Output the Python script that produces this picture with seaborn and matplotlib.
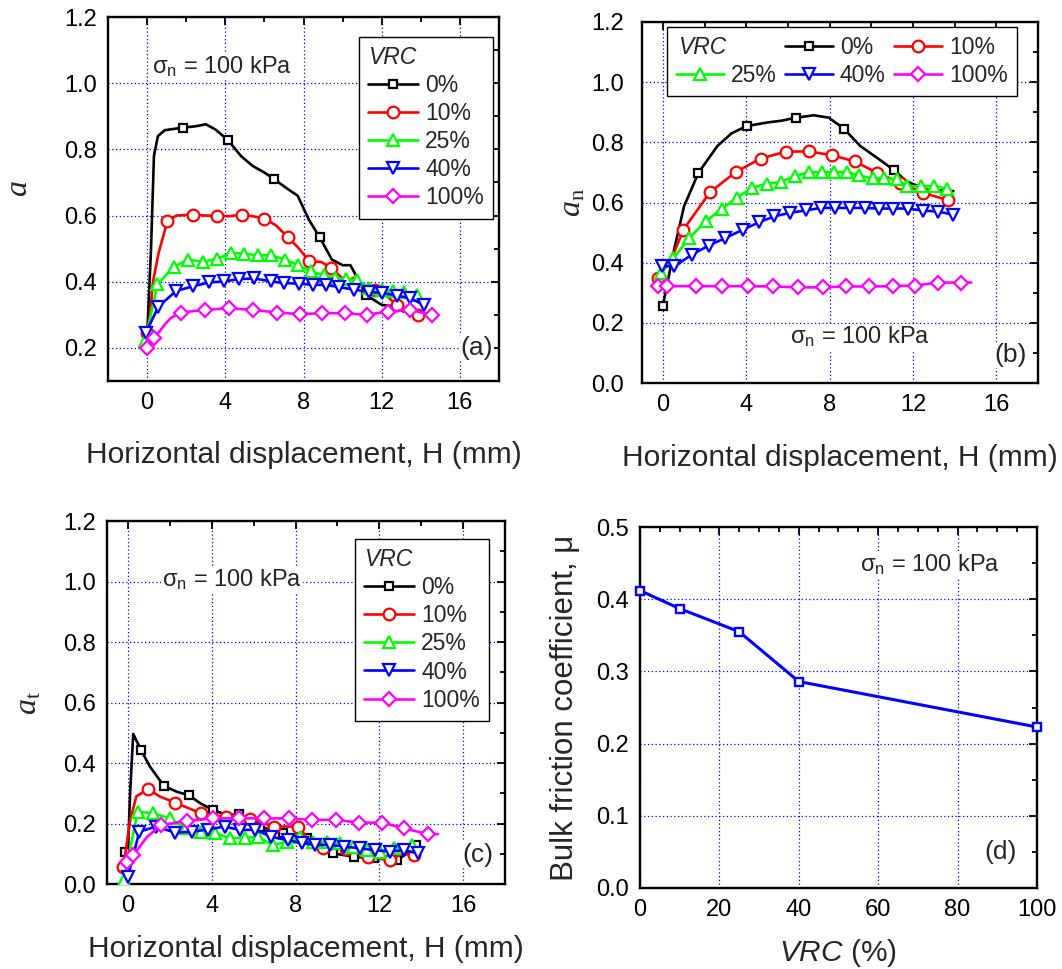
import numpy as np
import pandas as pd
import matplotlib
matplotlib.use("Agg")
import matplotlib.pyplot as plt
import seaborn as sns
from matplotlib.lines import Line2D
from matplotlib.ticker import MultipleLocator, FormatStrFormatter

sns.set_theme(style="white")
plt.rcParams["font.family"] = ["Liberation Sans", "DejaVu Sans"]
plt.rcParams["mathtext.fontset"] = "custom"
plt.rcParams["mathtext.rm"] = "Liberation Serif"
plt.rcParams["mathtext.it"] = "Liberation Serif:italic"
plt.rcParams["mathtext.sf"] = "Liberation Sans:italic"
plt.rcParams["axes.unicode_minus"] = False

# ---------------- data ----------------
VRC_LABELS = ["0%", "10%", "25%", "40%", "100%"]

# panel (a): a vs H
a_h_0 = [0.0, 0.2, 0.35, 0.55, 0.9, 1.85, 2.5, 3.0, 3.5, 4.15, 4.8, 5.4, 6.0, 6.5, 7.2, 7.7, 8.27, 8.83, 9.45, 10.0, 10.4, 10.8, 11.2, 12.0, 12.75, 13.1]
a_v_0 = [0.23, 0.5, 0.78, 0.84, 0.858, 0.866, 0.87, 0.876, 0.86, 0.827, 0.78, 0.75, 0.73, 0.71, 0.68, 0.66, 0.588, 0.534, 0.467, 0.45, 0.45, 0.406, 0.36, 0.33, 0.325, 0.31]
a_m_0 = [5, 9, 13, 17, 22]
a_h_10 = [0.0, 0.15, 0.3, 0.6, 1.04, 1.5, 2.36, 3.0, 3.59, 4.2, 4.83, 5.4, 6.0, 6.6, 7.19, 7.7, 8.3, 8.9, 9.4, 10.0, 10.56, 11.1, 11.67, 12.2, 12.77, 13.3, 13.88]
a_v_10 = [0.245, 0.30, 0.40, 0.49, 0.583, 0.60, 0.603, 0.60, 0.60, 0.598, 0.603, 0.598, 0.591, 0.57, 0.535, 0.505, 0.462, 0.46, 0.442, 0.41, 0.396, 0.385, 0.376, 0.36, 0.33, 0.31, 0.30]
a_m_10 = [0, 4, 6, 8, 10, 12, 14, 16, 18, 20, 22, 24, 26]
a_h_25 = [-0.1, 0.53, 1.38, 2.08, 2.87, 3.6, 4.3, 4.97, 5.65, 6.33, 7.06, 7.7, 8.38, 9.05, 9.6, 10.16, 10.76, 11.35, 12.03, 12.6, 13.14, 13.8]
a_v_25 = [0.22, 0.393, 0.445, 0.467, 0.46, 0.47, 0.487, 0.485, 0.48, 0.48, 0.467, 0.451, 0.431, 0.42, 0.41, 0.408, 0.406, 0.382, 0.375, 0.372, 0.37, 0.36]
a_h_40 = [-0.07, 0.58, 1.48, 2.33, 3.18, 3.95, 4.71, 5.48, 6.33, 7.01, 7.75, 8.46, 9.14, 9.82, 10.58, 11.34, 12.03, 12.8, 13.47, 14.15]
a_v_40 = [0.245, 0.325, 0.372, 0.386, 0.398, 0.401, 0.408, 0.41, 0.401, 0.396, 0.394, 0.391, 0.39, 0.384, 0.376, 0.37, 0.366, 0.358, 0.35, 0.33]
a_h_100 = [0.0, 0.36, 0.9, 1.2, 1.72, 2.96, 4.18, 5.41, 6.65, 7.84, 8.95, 10.1, 11.24, 12.3, 13.44, 14.56]
a_v_100 = [0.20, 0.23, 0.27, 0.29, 0.307, 0.315, 0.32, 0.315, 0.307, 0.302, 0.305, 0.305, 0.30, 0.31, 0.315, 0.30]
a_m_100 = [0, 1, 4, 5, 6, 7, 8, 9, 10, 11, 12, 13, 14, 15]

# panel (b): a_n vs H
b_h_0 = [0.0, 0.3, 0.54, 1.02, 1.71, 2.62, 3.3, 4.02, 5.01, 5.7, 6.4, 7.24, 7.96, 8.68, 9.47, 10.27, 11.1, 11.7, 12.66, 13.94]
b_v_0 = [0.257, 0.36, 0.443, 0.588, 0.699, 0.788, 0.83, 0.854, 0.866, 0.872, 0.882, 0.89, 0.882, 0.846, 0.788, 0.749, 0.707, 0.67, 0.643, 0.638]
b_m_0 = [0, 4, 7, 10, 13, 16]
b_h_10 = [-0.24, 0.4, 0.99, 2.26, 3.49, 4.69, 5.89, 7.0, 8.12, 9.2, 10.27, 11.39, 12.5, 13.67]
b_v_10 = [0.35, 0.41, 0.51, 0.634, 0.701, 0.746, 0.769, 0.77, 0.757, 0.737, 0.699, 0.666, 0.632, 0.608]
b_m_10 = [0, 2, 3, 4, 5, 6, 7, 8, 9, 10, 11, 12, 13]
b_h_25 = [-0.1, 0.51, 1.27, 2.07, 2.82, 3.56, 4.28, 4.98, 5.66, 6.33, 7.0, 7.63, 8.22, 8.86, 9.42, 10.06, 10.6, 11.22, 11.73, 12.4, 13.0, 13.64]
b_v_25 = [0.366, 0.415, 0.482, 0.538, 0.579, 0.616, 0.649, 0.663, 0.668, 0.688, 0.701, 0.701, 0.701, 0.701, 0.69, 0.68, 0.68, 0.677, 0.654, 0.654, 0.655, 0.646]
b_h_40 = [-0.03, 0.56, 1.4, 2.2, 3.0, 3.85, 4.6, 5.35, 6.12, 6.88, 7.58, 8.27, 8.99, 9.7, 10.39, 11.06, 11.78, 12.49, 13.21, 13.9]
b_v_40 = [0.388, 0.388, 0.427, 0.457, 0.482, 0.51, 0.534, 0.554, 0.566, 0.574, 0.582, 0.582, 0.582, 0.582, 0.58, 0.58, 0.58, 0.573, 0.57, 0.56]
b_h_100 = [-0.24, 0.2, 1.61, 2.86, 4.09, 5.3, 6.5, 7.67, 8.79, 9.91, 11.02, 12.1, 13.21, 14.3, 14.8]
b_v_100 = [0.321, 0.322, 0.322, 0.322, 0.322, 0.321, 0.318, 0.318, 0.321, 0.321, 0.322, 0.324, 0.334, 0.334, 0.334]
b_m_100 = list(range(14))

# panel (c): a_t vs H
c_h_0 = [-0.15, 0.0, 0.1, 0.25, 0.62, 1.05, 1.72, 2.33, 2.89, 3.45, 4.05, 4.72, 5.3, 6.3, 7.4, 8.55, 9.2, 9.8, 10.8, 11.75, 12.85, 13.3, 13.73]
c_v_0 = [0.105, 0.11, 0.30, 0.496, 0.443, 0.388, 0.324, 0.305, 0.294, 0.267, 0.245, 0.228, 0.23, 0.19, 0.168, 0.151, 0.13, 0.101, 0.09, 0.085, 0.079, 0.10, 0.129]
c_m_0 = [0, 4, 6, 8, 10, 12, 13, 14, 15, 17, 18, 19, 20, 22]
c_h_10 = [-0.22, 0.1, 0.4, 0.97, 1.53, 2.25, 3.48, 4.69, 5.84, 6.99, 8.12, 8.7, 9.3, 10.4, 11.45, 12.5, 13.1, 13.65]
c_v_10 = [0.057, 0.21, 0.29, 0.313, 0.289, 0.269, 0.234, 0.221, 0.214, 0.19, 0.19, 0.14, 0.12, 0.115, 0.09, 0.079, 0.10, 0.096]
c_m_10 = [0, 3, 5, 6, 7, 8, 9, 10, 12, 13, 14, 15, 17]
c_h_25 = [-0.2, 0.46, 1.2, 2.0, 2.76, 3.5, 4.14, 4.86, 5.57, 6.21, 6.93, 7.57, 8.2, 8.84, 9.48, 10.12, 10.76, 11.4, 12.04, 12.68, 13.56]
c_v_25 = [0.013, 0.239, 0.234, 0.217, 0.184, 0.173, 0.17, 0.151, 0.153, 0.155, 0.129, 0.14, 0.155, 0.14, 0.14, 0.135, 0.124, 0.112, 0.107, 0.118, 0.129]
c_h_40 = [0.0, 0.54, 1.34, 2.25, 3.04, 3.8, 4.61, 5.36, 6.07, 6.82, 7.62, 8.3, 8.94, 9.66, 10.3, 11.06, 11.78, 12.5, 13.17, 13.84]
c_v_40 = [0.024, 0.173, 0.19, 0.17, 0.173, 0.18, 0.19, 0.178, 0.18, 0.156, 0.145, 0.135, 0.129, 0.129, 0.124, 0.118, 0.112, 0.107, 0.112, 0.101]
c_h_100 = [-0.06, 0.26, 0.9, 1.58, 2.84, 4.08, 5.28, 6.48, 7.67, 8.8, 9.92, 11.04, 12.12, 13.19, 14.3, 14.8]
c_v_100 = [0.074, 0.096, 0.155, 0.195, 0.209, 0.217, 0.217, 0.217, 0.217, 0.212, 0.212, 0.203, 0.203, 0.184, 0.165, 0.165]
c_m_100 = [0, 1, 3, 4, 5, 6, 7, 8, 9, 10, 11, 12, 13, 14]

# panel (d): bulk friction coefficient vs VRC
d_vrc = [0, 10, 25, 40, 100]
d_mu = [0.412, 0.387, 0.355, 0.286, 0.223]

# ---------------- styles ----------------
COLORS = ["#000000", "#FF0000", "#00FF00", "#0000FF", "#FF00FF"]
MARKERS = ["s", "o", "^", "v", "D"]
MSIZES = [6.4, 8.4, 8.6, 8.6, 7.0]
LW = 1.9
MEW = 1.6
TICK_FS = 17
LABEL_FS = 21.5
TEXT_FS = 17
LEG_FS = 16.5

fig = plt.figure(figsize=(10.62, 9.69), dpi=100)
fig.patch.set_facecolor("white")

ax_a = fig.add_axes([0.1017, 0.6068, 0.3682, 0.3756])
ax_b = fig.add_axes([0.6045, 0.6047, 0.3729, 0.3726])
ax_c = fig.add_axes([0.1008, 0.0877, 0.3748, 0.3746])
ax_d = fig.add_axes([0.6026, 0.0836, 0.3738, 0.3725])


def draw_series(ax, h, v, idx, k):
    df = pd.DataFrame({"H": h, "v": v})
    sns.lineplot(data=df, x="H", y="v", ax=ax, sort=False, estimator=None,
                 color=COLORS[k], lw=LW, marker=MARKERS[k], markevery=idx,
                 markersize=MSIZES[k], markerfacecolor="white",
                 markeredgecolor=COLORS[k], markeredgewidth=MEW,
                 legend=False, zorder=3 + k)


def style_axes(ax, xlim, ylim, xmaj, xmin, ymaj, ymin, xfmt="%d", yfmt="%.1f"):
    ax.set_xlim(xlim)
    ax.set_ylim(ylim)
    ax.xaxis.set_major_locator(MultipleLocator(xmaj))
    ax.xaxis.set_minor_locator(MultipleLocator(xmin))
    ax.yaxis.set_major_locator(MultipleLocator(ymaj))
    ax.yaxis.set_minor_locator(MultipleLocator(ymin))
    ax.xaxis.set_major_formatter(FormatStrFormatter(xfmt))
    ax.yaxis.set_major_formatter(FormatStrFormatter(yfmt))
    ax.tick_params(which="both", direction="in", top=True, right=True,
                   color="black", width=1.3, labelsize=TICK_FS, labelcolor="black")
    ax.tick_params(which="major", length=6)
    ax.tick_params(which="minor", length=3.5)
    ax.tick_params(axis="x", which="major", pad=8)
    ax.tick_params(axis="y", which="major", pad=8)
    for s in ax.spines.values():
        s.set_visible(True)
        s.set_linewidth(1.7)
        s.set_color("black")
    ax.set_axisbelow(True)
    ax.grid(True, which="major", color="#0000FF", ls=(0, (1, 2)), lw=0.9)
    ax.set_facecolor("white")


def sigma_text(ax, x, y):
    ax.text(x, y, "σ$_\\mathregular{n}$ = 100 kPa", transform=ax.transAxes,
            fontsize=TEXT_FS, ha="left", va="center", zorder=20,
            bbox=dict(facecolor="white", edgecolor="none", pad=1))


def panel_label(ax, x, y, s):
    ax.text(x, y, s, transform=ax.transAxes, fontsize=19,
            ha="right", va="center", zorder=20,
            bbox=dict(facecolor="white", edgecolor="none", pad=0.5))


def legend_handles():
    return [Line2D([], [], color=COLORS[k], lw=LW, marker=MARKERS[k],
                   markersize=MSIZES[k], markerfacecolor="white",
                   markeredgecolor=COLORS[k], markeredgewidth=MEW)
            for k in range(5)]


def vertical_legend(ax, anchor):
    leg = ax.legend(legend_handles(), VRC_LABELS, loc="upper right",
                    bbox_to_anchor=anchor, borderaxespad=0,
                    fontsize=LEG_FS, title="VRC",
                    title_fontproperties={"style": "italic", "size": LEG_FS},
                    alignment="left", frameon=True, fancybox=False,
                    edgecolor="black", framealpha=1, handlelength=2.2,
                    handletextpad=0.3, labelspacing=0.22, borderpad=0.4)
    leg.get_frame().set_linewidth(1.0)
    leg.set_zorder(30)
    return leg


# ---- (a) ----
draw_series(ax_a, a_h_0, a_v_0, a_m_0, 0)
draw_series(ax_a, a_h_10, a_v_10, a_m_10, 1)
draw_series(ax_a, a_h_25, a_v_25, None, 2)
draw_series(ax_a, a_h_40, a_v_40, None, 3)
draw_series(ax_a, a_h_100, a_v_100, a_m_100, 4)
style_axes(ax_a, (-2, 18), (0.1, 1.2), 4, 2, 0.2, 0.1)
ax_a.set_xlabel("Horizontal displacement, H (mm)", fontsize=LABEL_FS)
ax_a.set_ylabel(r"$a$", fontsize=23)
ax_a.xaxis.set_label_coords(0.5, -0.165)
ax_a.yaxis.set_label_coords(-0.19, 0.53)
sigma_text(ax_a, 0.113, 0.863)
panel_label(ax_a, 0.985, 0.09, "(a)")
vertical_legend(ax_a, (0.985, 0.945))

# ---- (b) ----
draw_series(ax_b, b_h_0, b_v_0, b_m_0, 0)
draw_series(ax_b, b_h_10, b_v_10, b_m_10, 1)
draw_series(ax_b, b_h_25, b_v_25, None, 2)
draw_series(ax_b, b_h_40, b_v_40, None, 3)
draw_series(ax_b, b_h_100, b_v_100, b_m_100, 4)
style_axes(ax_b, (-1, 18), (0.0, 1.2), 4, 2, 0.2, 0.1)
ax_b.tick_params(axis="y", which="major", pad=13)
ax_b.set_xlabel("Horizontal displacement, H (mm)", fontsize=LABEL_FS)
ax_b.set_ylabel(r"$a_\mathrm{n}$", fontsize=23)
ax_b.xaxis.set_label_coords(0.5, -0.17)
ax_b.yaxis.set_label_coords(-0.137, 0.5)
sigma_text(ax_b, 0.374, 0.127)
panel_label(ax_b, 0.972, 0.078, "(b)")
hs = legend_handles()
blank = Line2D([], [], color="none")
handles_b = [blank, hs[2], hs[0], hs[3], hs[1], hs[4]]
labels_b = ["", VRC_LABELS[2], VRC_LABELS[0], VRC_LABELS[3], VRC_LABELS[1], VRC_LABELS[4]]
leg_b = ax_b.legend(handles_b, labels_b, ncol=3, loc="upper left",
                    bbox_to_anchor=(0.063, 0.986), borderaxespad=0,
                    fontsize=LEG_FS, frameon=True, fancybox=False,
                    edgecolor="black", framealpha=1, handlelength=2.1,
                    handletextpad=0.3, labelspacing=0.22, columnspacing=0.35,
                    borderpad=0.4)
leg_b.get_frame().set_linewidth(1.0)
leg_b.set_zorder(30)
ax_b.text(0.091, 0.928, "VRC", transform=ax_b.transAxes, fontsize=LEG_FS,
          style="italic", ha="left", va="center", zorder=40)

# ---- (c) ----
draw_series(ax_c, c_h_0, c_v_0, c_m_0, 0)
draw_series(ax_c, c_h_10, c_v_10, c_m_10, 1)
draw_series(ax_c, c_h_25, c_v_25, None, 2)
draw_series(ax_c, c_h_40, c_v_40, None, 3)
draw_series(ax_c, c_h_100, c_v_100, c_m_100, 4)
style_axes(ax_c, (-1, 18), (0.0, 1.2), 4, 2, 0.2, 0.1)
ax_c.set_xlabel("Horizontal displacement, H (mm)", fontsize=LABEL_FS)
ax_c.set_ylabel(r"$a_\mathrm{t}$", fontsize=23)
ax_c.xaxis.set_label_coords(0.5, -0.14)
ax_c.yaxis.set_label_coords(-0.16, 0.5)
sigma_text(ax_c, 0.138, 0.837)
panel_label(ax_c, 0.97, 0.08, "(c)")
vertical_legend(ax_c, (0.96, 0.95))

# ---- (d) ----
df_d = pd.DataFrame({"VRC": d_vrc, "mu": d_mu})
sns.lineplot(data=df_d, x="VRC", y="mu", ax=ax_d, sort=False, estimator=None,
             color="#0000FF", lw=2.2, marker="s", markersize=6.2,
             markerfacecolor="white", markeredgecolor="#0000FF",
             markeredgewidth=1.7, zorder=5, clip_on=False)
style_axes(ax_d, (0, 100), (0.0, 0.5), 20, 5, 0.1, 0.05)
ax_d.set_xlabel(r"$\mathsf{VRC}$ (%)", fontsize=LABEL_FS)
ax_d.set_ylabel("Bulk friction coefficient, μ", fontsize=22.5)
ax_d.xaxis.set_label_coords(0.5, -0.135)
ax_d.yaxis.set_label_coords(-0.15, 0.5)
sigma_text(ax_d, 0.554, 0.895)
panel_label(ax_d, 0.95, 0.10, "(d)")

fig.savefig("out.png", dpi=100, facecolor="white")
